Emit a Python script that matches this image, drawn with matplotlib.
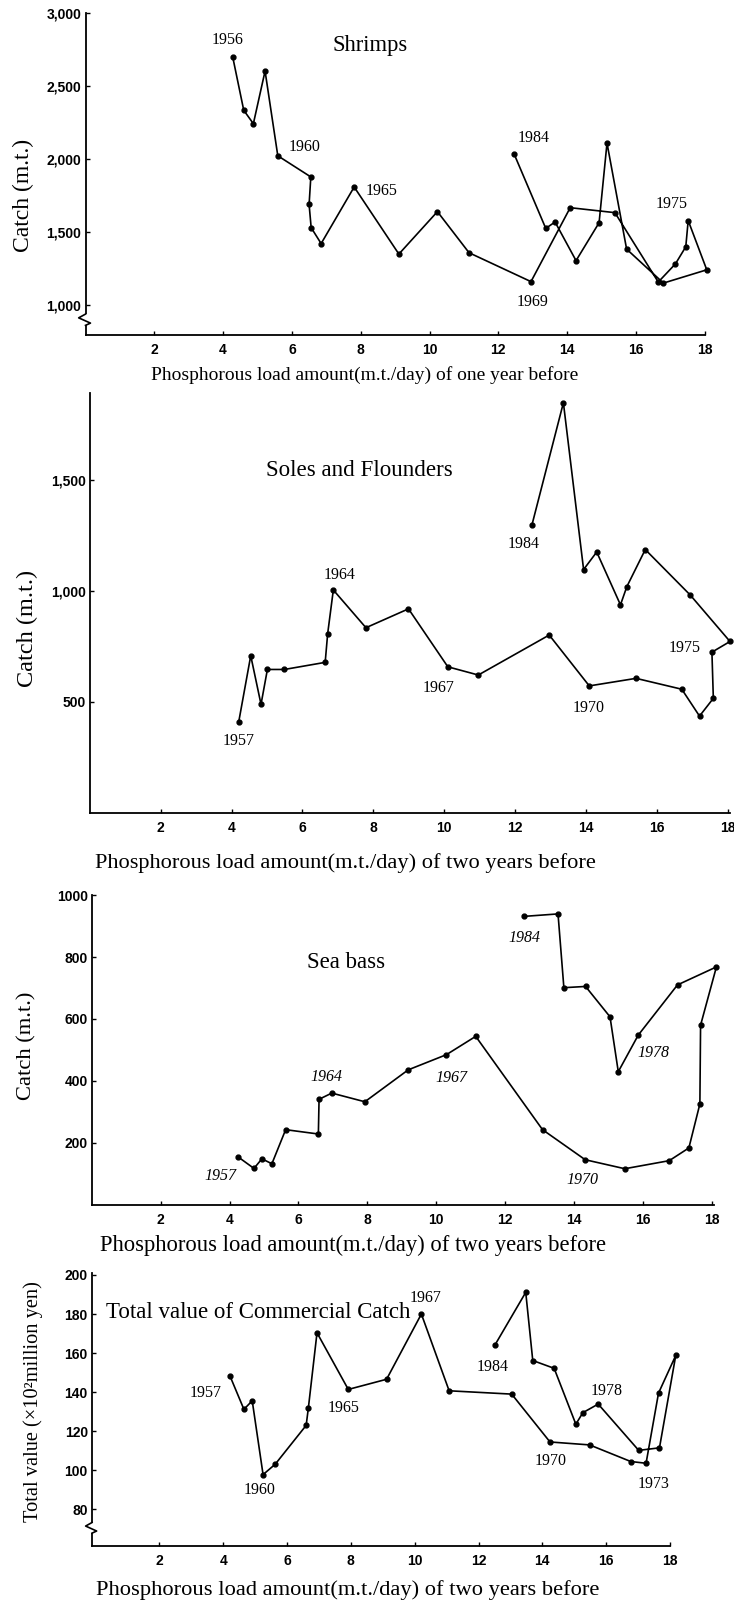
import matplotlib
matplotlib.use("Agg")
import matplotlib.pyplot as plt

plt.rcParams['font.family'] = ['Liberation Serif', 'DejaVu Serif']

W, H = 734, 1603

# ---- Shrimps (load of one year before), 1956..1984
shrimp_x = [4.28, 4.60, 4.88, 5.22, 5.59, 6.55, 6.50, 6.56, 6.85, 7.81,
            9.11, 10.23, 11.15, 12.95, 14.09, 15.39, 16.65, 17.15, 17.45, 17.52,
            18.06, 16.80, 15.73, 15.16, 14.93, 14.26, 13.65, 13.38, 12.46]
shrimp_y = [2700, 2335, 2243, 2604, 2023, 1878, 1689, 1530, 1421, 1809,
            1349, 1640, 1358, 1160, 1667, 1633, 1157, 1282, 1399, 1579,
            1241, 1150, 1383, 2110, 1564, 1304, 1569, 1525, 2035]
shrimp_years = list(range(1956, 1985))

# ---- Soles and flounders (two years before), 1957..1984
sole_x = [4.20, 4.54, 4.83, 5.01, 5.49, 6.64, 6.71, 6.87, 7.79, 8.99,
          10.10, 10.96, 12.96, 14.09, 15.41, 16.70, 17.20, 17.59, 17.55, 18.06,
          16.94, 15.67, 15.15, 14.97, 14.30, 13.93, 13.36, 12.47]
sole_y = [408, 707, 488, 645, 645, 677, 806, 1003, 833, 918,
          657, 620, 800, 571, 605, 556, 435, 515, 723, 771,
          980, 1185, 1018, 936, 1174, 1095, 1846, 1294]

# ---- Sea bass (two years before), 1957..1984
bass_x = [4.25, 4.71, 4.94, 5.23, 5.63, 6.58, 6.60, 6.97, 7.93, 9.19,
          10.30, 11.15, 13.09, 14.33, 15.48, 16.77, 17.34, 17.66, 17.68, 18.14,
          17.01, 15.87, 15.29, 15.05, 14.34, 13.71, 13.54, 12.55]
bass_y = [155, 118, 149, 133, 243, 229, 341, 361, 333, 436,
          485, 544, 243, 146, 117, 143, 184, 326, 580, 768,
          710, 548, 430, 607, 705, 701, 939, 931]

# ---- Total value of commercial catch (x10^2 million yen), 1957..1984
value_x = [4.21, 4.65, 4.91, 5.25, 5.63, 6.60, 6.67, 6.94, 7.92, 9.12,
           10.21, 11.08, 13.04, 14.24, 15.48, 16.77, 17.25, 17.64, 18.18, 17.67,
           17.02, 15.75, 15.27, 15.05, 14.37, 13.70, 13.48, 12.51]
value_y = [148.4, 131.2, 135.6, 97.8, 103.1, 123.0, 132.0, 170.4, 141.4, 146.6,
           180.0, 140.7, 139.0, 114.5, 113.0, 104.5, 103.6, 139.5, 158.8, 111.5,
           110.2, 133.9, 129.5, 123.6, 152.2, 156.2, 191.1, 164.0]
years_2 = list(range(1957, 1985))

xticks = [2, 4, 6, 8, 10, 12, 14, 16, 18]


def px_axes(fig, left, top, right, bottom):
    return fig.add_axes([left / W, 1 - bottom / H, (right - left) / W, (bottom - top) / H])


def fx(x):
    return x / W


def fy(y):
    return 1 - y / H


def style_ax(ax, yticks, ylabels):
    for s in ['top', 'right']:
        ax.spines[s].set_visible(False)
    for s in ['left', 'bottom']:
        ax.spines[s].set_linewidth(1.3)
    ax.set_xticks(xticks)
    ax.set_xticklabels([str(t) for t in xticks])
    ax.set_yticks(yticks)
    ax.set_yticklabels(ylabels)
    ax.tick_params(axis='both', direction='in', length=3, width=1.0,
                   labelsize=10)
    ax.tick_params(axis='x', pad=6)
    ax.tick_params(axis='y', pad=3)
    for lab in ax.get_xticklabels() + ax.get_yticklabels():
        lab.set_family(['Liberation Sans', 'DejaVu Sans'])
        lab.set_fontweight('bold')


def draw_series(ax, xs, ys):
    ax.plot(xs, ys, color='black', lw=1.2, marker='o', ms=3.5,
            clip_on=False, zorder=3)


def label_years(ax, xs, ys, years, marks, italic=False):
    for yr, (dx, dy) in marks.items():
        i = years.index(yr)
        ax.annotate(str(yr), (xs[i], ys[i]), xytext=(dx, dy),
                    textcoords='offset points', ha='center', va='center',
                    fontsize=11.5, style='italic' if italic else 'normal')


def axis_break(ax, lo, hi):
    # hide a short piece of the y spine and put a small zigzag there
    step = (hi - lo) / 3
    ax.plot([0, 0], [lo, hi], transform=ax.transAxes, color='white',
            lw=3, clip_on=False, zorder=4, solid_capstyle='butt')
    ax.plot([0, -0.011, 0.008, 0], [hi, hi - step, lo + step * 0.6, lo],
            transform=ax.transAxes, color='black', lw=1.2, clip_on=False, zorder=5)


fig = plt.figure(figsize=(W / 100, H / 100), dpi=100)

# ---------------- Shrimps
ax1 = px_axes(fig, 85.5, 13.3, 704.7, 335)
draw_series(ax1, shrimp_x, shrimp_y)
ax1.set_xlim(0, 18)
ax1.set_ylim(794, 3000)
style_ax(ax1, [1000, 1500, 2000, 2500, 3000],
         ['1,000', '1,500', '2,000', '2,500', '3,000'])
label_years(ax1, shrimp_x, shrimp_y, shrimp_years,
            {1956: (-3.6, 12), 1960: (19, 6), 1965: (20, -2.7),
             1969: (1, -14.7), 1975: (-12, 12.2), 1984: (14, 11.5)})
axis_break(ax1, 0.03, 0.065)
fig.text(fx(370), fy(46), 'Shrimps', fontsize=16.3, ha='center', va='center')
fig.text(fx(365), fy(375), 'Phosphorous load amount(m.t./day) of one year before',
         fontsize=14, ha='center', va='center')
fig.text(fx(23), fy(195), 'Catch (m.t.)', fontsize=17, rotation=90,
         ha='center', va='center')

# ---------------- Soles and Flounders
ax2 = px_axes(fig, 89.8, 393, 730, 812.7)
draw_series(ax2, sole_x, sole_y)
ax2.set_xlim(0, 18.06)
ax2.set_ylim(0, 1890)
style_ax(ax2, [500, 1000, 1500], ['500', '1,000', '1,500'])
label_years(ax2, sole_x, sole_y, years_2,
            {1957: (0, -13.7), 1964: (4.3, 10.8), 1967: (-6.8, -15.5),
             1970: (-0.7, -15.6), 1975: (-20, 2.9), 1984: (-6, -13.5)})
fig.text(fx(359), fy(470), 'Soles and Flounders', fontsize=16.6,
         ha='center', va='center')
fig.text(fx(345), fy(863), 'Phosphorous load amount(m.t./day) of two years before',
         fontsize=16.1, ha='center', va='center')
fig.text(fx(27), fy(628), 'Catch (m.t.)', fontsize=17.5, rotation=90,
         ha='center', va='center')

# ---------------- Sea bass
ax3 = px_axes(fig, 91.8, 895, 714, 1205)
draw_series(ax3, bass_x, bass_y)
ax3.set_xlim(0, 18.07)
ax3.set_ylim(0, 1000)
style_ax(ax3, [200, 400, 600, 800, 1000],
         ['200', '400', '600', '800', '1000'])
label_years(ax3, bass_x, bass_y, years_2,
            {1957: (-12.5, -13.5), 1964: (-3.6, 11.5), 1967: (3.6, -16.6),
             1970: (-1.9, -14.4), 1978: (10.8, -12.7), 1984: (0.7, -15.6)},
            italic=True)
fig.text(fx(346), fy(963), 'Sea bass', fontsize=16.5, ha='center', va='center')
fig.text(fx(353), fy(1245), 'Phosphorous load amount(m.t./day) of two years before',
         fontsize=16.3, ha='center', va='center')
fig.text(fx(27), fy(1046), 'Catch (m.t.)', fontsize=16.2, rotation=90,
         ha='center', va='center')

# ---------------- Total value
ax4 = px_axes(fig, 92, 1273, 670, 1545.7)
draw_series(ax4, value_x, value_y)
ax4.set_xlim(-0.11, 18.0)
ax4.set_ylim(61.4, 201)
style_ax(ax4, [80, 100, 120, 140, 160, 180, 200],
         ['80', '100', '120', '140', '160', '180', '200'])
label_years(ax4, value_x, value_y, years_2,
            {1957: (-17.3, -12.7), 1960: (-2.2, -11.3), 1965: (-3.6, -13.2),
             1967: (2.7, 11.5), 1970: (0.5, -13.9), 1973: (5.3, -14.9),
             1978: (6.3, 9.4), 1984: (-1.4, -15.3)})
axis_break(ax4, 0.046, 0.085)
fig.text(fx(106), fy(1313), 'Total value of Commercial Catch', fontsize=16.5,
         ha='left', va='center')
fig.text(fx(348), fy(1590), 'Phosphorous load amount(m.t./day) of two years before',
         fontsize=16.2, ha='center', va='center')
fig.text(fx(33), fy(1402), 'Total value (×10²million yen)', fontsize=14.7,
         rotation=90, ha='center', va='center')

fig.savefig('out.png', dpi=100)
